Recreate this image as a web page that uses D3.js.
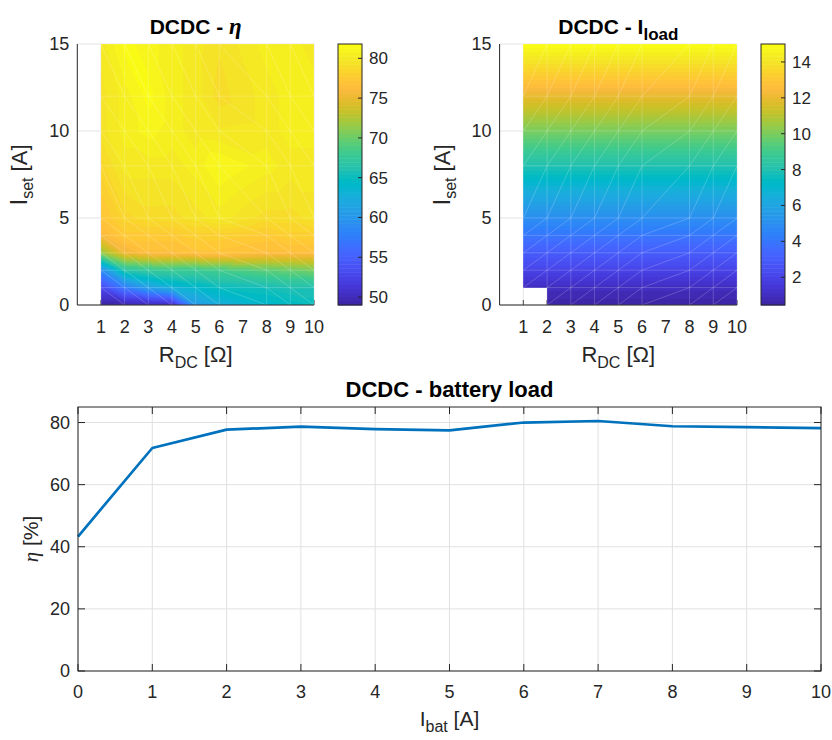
<!DOCTYPE html>
<html>
<head>
<meta charset="utf-8">
<script src="https://d3js.org/d3.v7.min.js"></script>
<title>DCDC efficiency</title>
<style>
  body { margin: 0; background: #fff; }
  text { font-family: "Liberation Sans", Arial, sans-serif; fill: #262626; }
  .title { font-weight: bold; fill: #000; }
  .math { font-family: "Liberation Serif", "DejaVu Serif", serif; font-style: italic; }
</style>
</head>
<body>
<svg width="832" height="740"></svg>
<script>
// ---- data ----
const rdc = [1, 2, 3, 4, 5, 6, 8, 9, 10];
const iset = [0, 1, 2, 3, 4, 5, 8, 10, 12, 15];

// efficiency [%], one row per I_set, one column per R_DC
const eta = [
  [49.0, 49.3, 49.5, 50.2, 60.5, 62.5, 64.0, 64.5, 65.0],
  [53.0, 57.5, 61.0, 63.0, 64.0, 65.0, 65.5, 66.0, 66.0],
  [59.0, 66.5, 67.5, 68.0, 68.0, 68.5, 69.5, 70.0, 70.5],
  [71.5, 75.5, 76.5, 76.5, 77.0, 77.0, 76.5, 76.5, 76.5],
  [76.0, 77.5, 77.5, 77.5, 78.0, 78.0, 77.5, 78.0, 78.0],
  [77.0, 78.5, 79.0, 79.0, 79.5, 80.0, 79.0, 79.0, 79.5],
  [78.5, 80.0, 80.0, 80.0, 80.5, 81.3, 80.5, 80.0, 80.0],
  [79.5, 80.5, 81.0, 80.5, 80.0, 79.8, 80.0, 80.5, 80.5],
  [79.5, 80.5, 81.5, 80.5, 80.0, 79.0, 80.0, 80.5, 80.5],
  [80.0, 81.5, 81.0, 80.5, 80.0, 79.3, 80.5, 80.5, 80.0]
];

// load current [A]
const iload = [
  [NaN, 0.5, 0.5, 0.5, 0.5, 0.5, 0.5, 0.5, 0.5],
  [1.0, 1.0, 1.0, 1.0, 1.0, 1.0, 1.0, 1.0, 1.0],
  [2.0, 2.0, 2.0, 2.0, 2.0, 2.0, 2.0, 2.0, 2.0],
  [3.0, 3.0, 3.0, 3.0, 3.0, 3.0, 3.0, 3.0, 3.0],
  [4.0, 4.0, 4.0, 4.0, 4.0, 4.0, 4.0, 4.0, 4.0],
  [5.0, 5.0, 5.0, 5.0, 5.0, 5.0, 5.0, 5.0, 5.0],
  [8.0, 8.0, 8.0, 8.0, 8.0, 8.0, 8.0, 8.0, 8.0],
  [10.0, 10.0, 10.0, 10.0, 10.0, 10.0, 10.0, 10.0, 10.0],
  [12.0, 12.0, 12.0, 12.0, 12.0, 12.0, 12.0, 12.0, 12.0],
  [15.0, 15.0, 15.0, 15.0, 15.0, 15.0, 15.0, 15.0, 15.0]
];

const ibat = [0, 1, 2, 3, 4, 5, 6, 7, 8, 9, 10];
const etaBat = [43.3, 71.8, 77.7, 78.7, 77.9, 77.5, 80.0, 80.5, 78.8, 78.5, 78.2];

const etaTicks = [50, 55, 60, 65, 70, 75, 80];
const iloadTicks = [2, 4, 6, 8, 10, 12, 14];
const rTicks = [1, 2, 3, 4, 5, 6, 7, 8, 9, 10];
const isetTicks = [0, 5, 10, 15];
const batXTicks = [0, 1, 2, 3, 4, 5, 6, 7, 8, 9, 10];
const batYTicks = [0, 20, 40, 60, 80];

// parula, 64 entries
const parula = [
  [0.2422,0.1504,0.6603],[0.2504,0.1650,0.7076],[0.2578,0.1818,0.7511],[0.2647,0.1978,0.7952],
  [0.2706,0.2147,0.8364],[0.2751,0.2342,0.8710],[0.2783,0.2559,0.8991],[0.2803,0.2782,0.9221],
  [0.2813,0.3006,0.9414],[0.2810,0.3228,0.9579],[0.2795,0.3447,0.9717],[0.2760,0.3667,0.9829],
  [0.2699,0.3892,0.9906],[0.2602,0.4123,0.9952],[0.2440,0.4358,0.9988],[0.2206,0.4603,0.9973],
  [0.1963,0.4847,0.9892],[0.1834,0.5074,0.9798],[0.1786,0.5289,0.9682],[0.1764,0.5499,0.9520],
  [0.1687,0.5703,0.9359],[0.1540,0.5902,0.9218],[0.1460,0.6091,0.9079],[0.1380,0.6276,0.8973],
  [0.1248,0.6459,0.8883],[0.1113,0.6635,0.8763],[0.0952,0.6798,0.8598],[0.0689,0.6948,0.8394],
  [0.0297,0.7082,0.8163],[0.0036,0.7203,0.7917],[0.0067,0.7312,0.7660],[0.0433,0.7411,0.7394],
  [0.0964,0.7500,0.7120],[0.1408,0.7584,0.6842],[0.1717,0.7670,0.6554],[0.1938,0.7758,0.6251],
  [0.2161,0.7843,0.5923],[0.2470,0.7918,0.5567],[0.2906,0.7973,0.5188],[0.3406,0.8008,0.4789],
  [0.3909,0.8029,0.4354],[0.4456,0.8024,0.3909],[0.5044,0.7993,0.3480],[0.5616,0.7942,0.3045],
  [0.6174,0.7876,0.2612],[0.6720,0.7793,0.2227],[0.7242,0.7698,0.1910],[0.7738,0.7598,0.1646],
  [0.8203,0.7498,0.1535],[0.8634,0.7406,0.1596],[0.9035,0.7330,0.1774],[0.9393,0.7288,0.2100],
  [0.9728,0.7298,0.2394],[0.9956,0.7434,0.2371],[0.9970,0.7659,0.2199],[0.9952,0.7893,0.2028],
  [0.9892,0.8136,0.1885],[0.9786,0.8386,0.1766],[0.9676,0.8639,0.1643],[0.9610,0.8890,0.1537],
  [0.9597,0.9135,0.1423],[0.9628,0.9373,0.1265],[0.9691,0.9606,0.1064],[0.9769,0.9839,0.0805]
].map(c => c.map(v => Math.round(v * 255)));

const svg = d3.select('svg');
const ink = '#262626';

function colorIndex(v, cmin, cmax) {
  const t = (v - cmin) / (cmax - cmin);
  return Math.max(0, Math.min(63, Math.floor(t * 64)));
}

// linear interpolation inside the triangles of each cell
function sample(grid, xv, yv, diag) {
  let i = d3.bisectRight(rdc, xv) - 1;
  let j = d3.bisectRight(iset, yv) - 1;
  i = Math.max(0, Math.min(rdc.length - 2, i));
  j = Math.max(0, Math.min(iset.length - 2, j));
  const u = (xv - rdc[i]) / (rdc[i + 1] - rdc[i]);
  const v = (yv - iset[j]) / (iset[j + 1] - iset[j]);
  const bl = grid[j][i], br = grid[j][i + 1], tl = grid[j + 1][i], tr = grid[j + 1][i + 1];
  if (diag === '\\') {
    if (u + v <= 1) return bl + u * (br - bl) + v * (tl - bl);
    return tr + (1 - u) * (tl - tr) + (1 - v) * (br - tr);
  }
  if (u >= v) return bl + u * (br - bl) + v * (tr - br);
  return bl + v * (tl - bl) + u * (tr - tl);
}

function drawMap(cfg) {
  const x = d3.scaleLinear().domain([0, 10]).range([cfg.left, cfg.right]);
  const y = d3.scaleLinear().domain([0, 15]).range([305, 44]);
  const g = svg.append('g');

  // grid
  g.selectAll('.gy').data(isetTicks).enter().append('line')
    .attr('x1', x(0)).attr('x2', x(10))
    .attr('y1', d => y(d)).attr('y2', d => y(d))
    .attr('stroke', '#e3e3e3');
  g.selectAll('.gx').data(rTicks).enter().append('line')
    .attr('x1', d => x(d)).attr('x2', d => x(d))
    .attr('y1', y(0)).attr('y2', y(15))
    .attr('stroke', '#e3e3e3');
  // inward ticks
  g.selectAll('.tx').data(rTicks).enter().append('line')
    .attr('x1', d => x(d)).attr('x2', d => x(d))
    .attr('y1', y(0)).attr('y2', y(0) - 5)
    .attr('stroke', ink);

  // surface
  const px0 = Math.round(x(1)), px1 = Math.round(x(10));
  const py0 = Math.round(y(15)), py1 = Math.round(y(0));
  const w = px1 - px0, h = py1 - py0;
  const canvas = document.createElement('canvas');
  canvas.width = w; canvas.height = h;
  const ctx = canvas.getContext('2d');
  const img = ctx.createImageData(w, h);
  for (let r = 0; r < h; r++) {
    for (let c = 0; c < w; c++) {
      const val = sample(cfg.data, x.invert(px0 + c + 0.5), y.invert(py0 + r + 0.5), cfg.diag);
      const k = (r * w + c) * 4;
      if (isNaN(val)) { img.data[k + 3] = 0; continue; }
      const col = parula[colorIndex(val, cfg.cmin, cfg.cmax)];
      img.data[k] = col[0]; img.data[k + 1] = col[1]; img.data[k + 2] = col[2]; img.data[k + 3] = 255;
    }
  }
  ctx.putImageData(img, 0, 0);
  g.append('image')
    .attr('x', px0).attr('y', py0).attr('width', w).attr('height', h)
    .attr('preserveAspectRatio', 'none')
    .attr('href', canvas.toDataURL());

  // faint mesh edges
  const mesh = g.append('g').attr('stroke', '#fff').attr('stroke-opacity', 0.28).attr('stroke-width', 0.7);
  mesh.selectAll('.mh').data(iset).enter().append('line')
    .attr('x1', x(1)).attr('x2', x(10)).attr('y1', d => y(d)).attr('y2', d => y(d));
  mesh.selectAll('.mv').data(rdc).enter().append('line')
    .attr('x1', d => x(d)).attr('x2', d => x(d)).attr('y1', y(0)).attr('y2', y(15));
  const cells = [];
  for (let j = 0; j < iset.length - 1; j++) {
    for (let i = 0; i < rdc.length - 1; i++) {
      const corners = [cfg.data[j][i], cfg.data[j][i + 1], cfg.data[j + 1][i], cfg.data[j + 1][i + 1]];
      if (corners.some(isNaN)) continue;
      cells.push({ i, j });
    }
  }
  mesh.selectAll('.md').data(cells).enter().append('line')
    .attr('x1', d => x(rdc[d.i]))
    .attr('x2', d => x(rdc[d.i + 1]))
    .attr('y1', d => cfg.diag === '\\' ? y(iset[d.j + 1]) : y(iset[d.j]))
    .attr('y2', d => cfg.diag === '\\' ? y(iset[d.j]) : y(iset[d.j + 1]));

  // axis lines
  g.append('line').attr('x1', x(0)).attr('x2', x(0)).attr('y1', y(0)).attr('y2', y(15)).attr('stroke', ink);
  g.append('line').attr('x1', x(0)).attr('x2', x(10)).attr('y1', y(0)).attr('y2', y(0)).attr('stroke', ink);

  // tick labels
  g.selectAll('.ly').data(isetTicks).enter().append('text')
    .attr('x', x(0) - 8).attr('y', d => y(d)).attr('dy', '0.35em')
    .attr('text-anchor', 'end').style('font-size', '18px').text(d => d);
  g.selectAll('.lx').data(rTicks).enter().append('text')
    .attr('x', d => x(d)).attr('y', 327).attr('dy', '0.35em')
    .attr('text-anchor', 'middle').style('font-size', '18px').text(d => d);

  // axis labels
  const xl = g.append('text').attr('x', (x(0) + x(10)) / 2).attr('y', 362)
    .attr('text-anchor', 'middle').style('font-size', '22px');
  xl.append('tspan').text('R');
  xl.append('tspan').attr('dy', 6).style('font-size', '16px').text('DC');
  xl.append('tspan').attr('dy', -6).text(' [Ω]');

  const yl = g.append('text')
    .attr('transform', `translate(${x(0) - 50},175) rotate(-90)`)
    .attr('text-anchor', 'middle').style('font-size', '22px');
  yl.append('tspan').style('font-size', '24px').text('I');
  yl.append('tspan').attr('dy', 6).style('font-size', '16px').text('set');
  yl.append('tspan').attr('dy', -6).text(' [A]');

  // title
  const t = g.append('text').attr('class', 'title')
    .attr('x', (x(0) + x(10)) / 2).attr('y', 34)
    .attr('text-anchor', 'middle').style('font-size', '21px');
  cfg.title(t);

  // colorbar
  const cy = d3.scaleLinear().domain([cfg.cmin, cfg.cmax]).range([305, 44]);
  const band = d3.scaleLinear().domain([0, 64]).range([305, 44]);
  const cb = svg.append('g');
  cb.selectAll('rect').data(d3.range(64)).enter().append('rect')
    .attr('x', cfg.cbX).attr('width', 24)
    .attr('y', d => band(d + 1)).attr('height', d => band(d) - band(d + 1) + 0.5)
    .attr('fill', d => `rgb(${parula[d].join(',')})`);
  cb.append('rect').attr('x', cfg.cbX).attr('y', 44).attr('width', 24).attr('height', 261)
    .attr('fill', 'none').attr('stroke', ink).attr('stroke-width', 1);
  cb.selectAll('.ct').data(cfg.ticks).enter().append('line')
    .attr('x1', cfg.cbX + 24).attr('x2', cfg.cbX + 20)
    .attr('y1', d => cy(d)).attr('y2', d => cy(d)).attr('stroke', ink);
  cb.selectAll('.cl').data(cfg.ticks).enter().append('text')
    .attr('x', cfg.cbX + 31).attr('y', d => cy(d)).attr('dy', '0.35em')
    .style('font-size', '17px').text(d => d);
}

drawMap({
  left: 77.3, right: 314, data: eta, diag: '\\', cmin: 49.0, cmax: 81.8,
  ticks: etaTicks, cbX: 338,
  title: t => {
    t.append('tspan').text('DCDC - ');
    t.append('tspan').attr('class', 'math').style('font-size', '23px').style('fill', '#000').text('η');
  }
});

drawMap({
  left: 499.6, right: 737, data: iload, diag: '/', cmin: 0.45, cmax: 15.0,
  ticks: iloadTicks, cbX: 761,
  title: t => {
    t.append('tspan').text('DCDC - I');
    t.append('tspan').attr('dy', 6).style('font-size', '17px').text('load');
  }
});

// ---- bottom line chart ----
const bx = d3.scaleLinear().domain([0, 10]).range([78, 821]);
const by = d3.scaleLinear().domain([0, 85]).range([671, 407]);
const lg = svg.append('g');

lg.selectAll('.gx').data(batXTicks).enter().append('line')
  .attr('x1', d => bx(d)).attr('x2', d => bx(d)).attr('y1', by(0)).attr('y2', by(85))
  .attr('stroke', '#e1e1e1');
lg.selectAll('.gy').data(batYTicks).enter().append('line')
  .attr('x1', bx(0)).attr('x2', bx(10)).attr('y1', d => by(d)).attr('y2', d => by(d))
  .attr('stroke', '#e1e1e1');

lg.append('path').datum(ibat.map((v, i) => [v, etaBat[i]]))
  .attr('fill', 'none').attr('stroke', '#0072BD').attr('stroke-width', 2.7)
  .attr('stroke-linejoin', 'round')
  .attr('d', d3.line().x(d => bx(d[0])).y(d => by(d[1])));

lg.append('rect').attr('x', bx(0)).attr('y', by(85))
  .attr('width', bx(10) - bx(0)).attr('height', by(0) - by(85))
  .attr('fill', 'none').attr('stroke', ink);

lg.selectAll('.tb').data(batXTicks).enter().append('line')
  .attr('x1', d => bx(d)).attr('x2', d => bx(d)).attr('y1', by(0)).attr('y2', by(0) - 7).attr('stroke', ink);
lg.selectAll('.tt').data(batXTicks).enter().append('line')
  .attr('x1', d => bx(d)).attr('x2', d => bx(d)).attr('y1', by(85)).attr('y2', by(85) + 7).attr('stroke', ink);
lg.selectAll('.tl').data(batYTicks).enter().append('line')
  .attr('x1', bx(0)).attr('x2', bx(0) + 7).attr('y1', d => by(d)).attr('y2', d => by(d)).attr('stroke', ink);
lg.selectAll('.tr').data(batYTicks).enter().append('line')
  .attr('x1', bx(10)).attr('x2', bx(10) - 7).attr('y1', d => by(d)).attr('y2', d => by(d)).attr('stroke', ink);

lg.selectAll('.lx').data(batXTicks).enter().append('text')
  .attr('x', d => bx(d)).attr('y', 692).attr('dy', '0.35em')
  .attr('text-anchor', 'middle').style('font-size', '18px').text(d => d);
lg.selectAll('.ly').data(batYTicks).enter().append('text')
  .attr('x', bx(0) - 8).attr('y', d => by(d)).attr('dy', '0.35em')
  .attr('text-anchor', 'end').style('font-size', '18px').text(d => d);

const bxl = lg.append('text').attr('x', (bx(0) + bx(10)) / 2).attr('y', 726)
  .attr('text-anchor', 'middle').style('font-size', '21px');
bxl.append('tspan').text('I');
bxl.append('tspan').attr('dy', 6).style('font-size', '16px').text('bat');
bxl.append('tspan').attr('dy', -6).text(' [A]');

const byl = lg.append('text')
  .attr('transform', `translate(38,${by(42.5)}) rotate(-90)`)
  .attr('text-anchor', 'middle').style('font-size', '21px');
byl.append('tspan').attr('class', 'math').text('η');
byl.append('tspan').text(' [%]');

lg.append('text').attr('class', 'title')
  .attr('x', (bx(0) + bx(10)) / 2).attr('y', 397)
  .attr('text-anchor', 'middle').style('font-size', '22px')
  .text('DCDC - battery load');
</script>
</body>
</html>
